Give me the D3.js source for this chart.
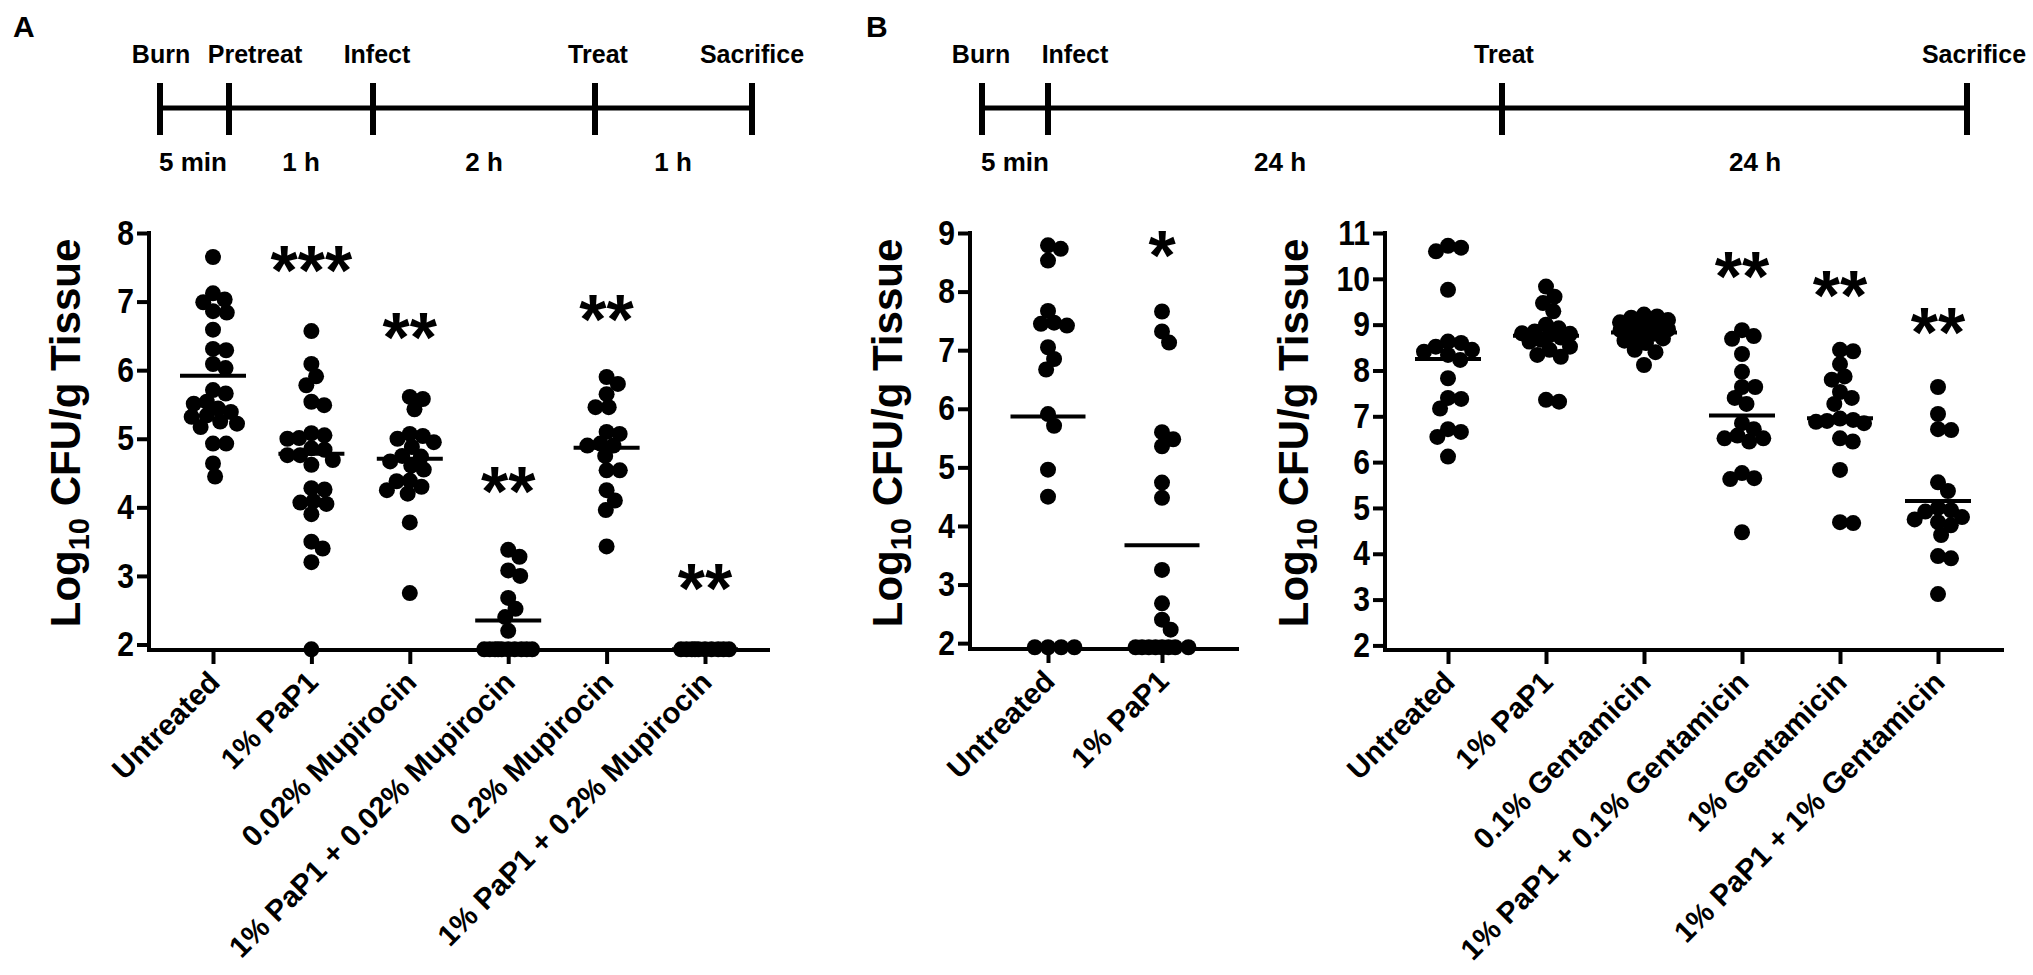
<!DOCTYPE html>
<html>
<head>
<meta charset="utf-8">
<script src="https://cdn.jsdelivr.net/npm/d3@7"></script>
<style>
  html, body { margin: 0; padding: 0; background: #fff; }
  svg text { font-family: "Liberation Sans", Arial, sans-serif; font-weight: bold; fill: #000; }
</style>
</head>
<body>
<div id="chart"></div>
<script>
// ---- data (log10 CFU/g tissue) ----
const timelineEventsA = ['Burn', 'Pretreat', 'Infect', 'Treat', 'Sacrifice'];
const timelineIntervalsA = ['5 min', '1 h', '2 h', '1 h'];
const timelineEventsB = ['Burn', 'Infect', 'Treat', 'Sacrifice'];
const timelineIntervalsB = ['5 min', '24 h', '24 h'];

const categoriesA = ['Untreated', '1% PaP1', '0.02% Mupirocin', '1% PaP1 + 0.02% Mupirocin', '0.2% Mupirocin', '1% PaP1 + 0.2% Mupirocin'];
const valuesA = [
    [7.65, 7.12, 7.03, 6.99, 6.86, 6.84, 6.59, 6.31, 6.29, 6.09, 6.03, 5.71, 5.66, 5.54, 5.51, 5.44, 5.39, 5.34, 5.32, 5.25, 5.22, 5.17, 4.93, 4.93, 4.64, 4.45],
    [6.57, 6.09, 5.91, 5.78, 5.54, 5.49, 5.08, 5.05, 5.01, 5.0, 4.86, 4.84, 4.76, 4.76, 4.69, 4.62, 4.28, 4.26, 4.09, 4.07, 4.05, 3.9, 3.5, 3.4, 3.2, 1.93],
    [5.61, 5.58, 5.43, 5.07, 5.04, 5.0, 4.95, 4.88, 4.75, 4.74, 4.67, 4.61, 4.55, 4.39, 4.38, 4.30, 4.25, 4.2, 3.78, 2.75],
    [3.38, 3.28, 3.08, 3.0, 2.68, 2.52, 2.4, 2.2, 1.93, 1.93, 1.93, 1.93, 1.93, 1.93, 1.93, 1.93, 1.93, 1.93],
    [5.9, 5.8, 5.65, 5.46, 5.46, 5.1, 5.07, 4.93, 4.9, 4.9, 4.75, 4.54, 4.54, 4.25, 4.1, 3.96, 3.43],
    [1.93, 1.93, 1.93, 1.93, 1.93, 1.93, 1.93, 1.93, 1.93, 1.93]
];
const meansA = [5.92, 4.78, 4.71, 2.35, 4.87, 1.93];
const starsA = ['', '***', '**', '**', '**', '**'];
const starLevelsA = [0, 7.68, 6.70, 4.46, 6.96, 3.04];
const ticksA = [2, 3, 4, 5, 6, 7, 8];

const categoriesB1 = ['Untreated', '1% PaP1'];
const valuesB1 = [
    [8.79, 8.73, 8.53, 7.67, 7.47, 7.45, 7.42, 7.05, 6.85, 6.67, 5.91, 5.71, 4.96, 4.50, 1.93, 1.93, 1.93, 1.93],
    [7.66, 7.32, 7.13, 5.60, 5.48, 5.36, 4.74, 4.48, 3.25, 2.68, 2.40, 2.23, 1.93, 1.93, 1.93, 1.93, 1.93, 1.93, 1.93, 1.93]
];
const meansB1 = [5.87, 3.67];
const starsB1 = ['', '*'];
const starLevelsB1 = [0, 8.88];
const ticksB1 = [2, 3, 4, 5, 6, 7, 8, 9];

const categoriesB2 = ['Untreated', '1% PaP1', '0.1% Gentamicin', '1% PaP1 + 0.1% Gentamicin', '1% Gentamicin', '1% PaP1 + 1% Gentamicin'];
const valuesB2 = [
    [10.72, 10.68, 10.60, 9.76, 8.63, 8.60, 8.52, 8.45, 8.41, 8.34, 8.23, 7.83, 7.40, 7.38, 7.17, 6.72, 6.66, 6.55, 6.12],
    [9.83, 9.61, 9.47, 9.29, 9.0, 8.92, 8.85, 8.81, 8.8, 8.78, 8.72, 8.67, 8.63, 8.52, 8.45, 8.34, 8.3, 7.36, 7.32],
    [9.22, 9.18, 9.15, 9.1, 9.05, 9.0, 8.98, 8.95, 8.92, 8.9, 8.88, 8.85, 8.8, 8.75, 8.7, 8.65, 8.6, 8.45, 8.4, 8.12],
    [8.88, 8.75, 8.69, 8.36, 7.97, 7.64, 7.64, 7.4, 7.27, 6.85, 6.72, 6.58, 6.52, 6.52, 6.45, 5.76, 5.65, 5.63, 4.47],
    [8.45, 8.42, 8.14, 7.87, 7.8, 7.53, 7.4, 7.27, 6.95, 6.92, 6.9, 6.88, 6.85, 6.52, 6.45, 5.83, 4.69, 4.67],
    [7.64, 7.05, 6.72, 6.70, 5.56, 5.37, 5.0, 4.95, 4.92, 4.8, 4.75, 4.69, 4.62, 4.41, 3.95, 3.9, 3.12]
];
const meansB2 = [8.25, 8.76, 8.83, 7.02, 6.96, 5.15];
const starsB2 = ['', '', '', '**', '**', '**'];
const starLevelsB2 = [0, 0, 0, 10.39, 9.97, 9.17];
const ticksB2 = [2, 3, 4, 5, 6, 7, 8, 9, 10, 11];

// ---- layout ----
const width = 2033;
const height = 975;
const dotR = 8;

const svg = d3.select('#chart')
    .append('svg')
    .attr('width', width)
    .attr('height', height);

svg.append('text').attr('x', 13).attr('y', 37).attr('font-size', 30).text('A');
svg.append('text').attr('x', 866).attr('y', 37).attr('font-size', 30).text('B');

// timeline schematic
function drawTimeline(events, intervals, tickX, labelX, intervalX) {
    const g = svg.append('g');
    const lineY = 108;
    g.append('line')
        .attr('x1', tickX[0]).attr('x2', tickX[tickX.length - 1])
        .attr('y1', lineY).attr('y2', lineY)
        .attr('stroke', '#000').attr('stroke-width', 5);
    g.selectAll('line.tick')
        .data(tickX)
        .enter()
        .append('line')
        .attr('class', 'tick')
        .attr('x1', (d) => d).attr('x2', (d) => d)
        .attr('y1', 83).attr('y2', 135)
        .attr('stroke', '#000').attr('stroke-width', 6);
    g.selectAll('text.ev')
        .data(events)
        .enter()
        .append('text')
        .attr('class', 'ev')
        .attr('x', (d, i) => labelX[i])
        .attr('y', 63)
        .attr('text-anchor', 'middle')
        .attr('font-size', 25)
        .text((d) => d);
    g.selectAll('text.iv')
        .data(intervals)
        .enter()
        .append('text')
        .attr('class', 'iv')
        .attr('x', (d, i) => intervalX[i])
        .attr('y', 171)
        .attr('text-anchor', 'middle')
        .attr('font-size', 26)
        .text((d) => d);
}

drawTimeline(timelineEventsA, timelineIntervalsA,
    [160, 229, 373, 595, 752], [161, 255, 377, 598, 752], [193, 301, 484, 673]);
drawTimeline(timelineEventsB, timelineIntervalsB,
    [982, 1048, 1502, 1967], [981, 1075, 1504, 1974], [1015, 1280, 1755]);

// simple beeswarm: offsets that keep dots apart, squeezed within a column half-width
function swarm(vals, y, minD, limit) {
    const placed = [];
    vals.forEach((v) => {
        const py = y(v);
        const cands = [0];
        placed.forEach((p) => {
            const dy = Math.abs(p.y - py);
            if (dy < minD) {
                const dx = Math.sqrt(minD * minD - dy * dy);
                cands.push(p.x + dx, p.x - dx);
            }
        });
        cands.sort((a, b) => Math.abs(a) - Math.abs(b));
        let best = null;
        for (const c of cands) {
            if (Math.abs(c) > limit + 0.01) continue;
            const ok = placed.every((p) => Math.hypot(p.x - c, p.y - py) >= minD - 0.01);
            if (ok) { best = c; break; }
        }
        if (best === null) {
            let bestD = -1;
            for (let c = -limit; c <= limit; c += 0.5) {
                const d = d3.min(placed, (p) => Math.hypot(p.x - c, p.y - py));
                if (d > bestD + 0.01) { bestD = d; best = c; }
            }
        }
        placed.push({ v: v, x: best, y: py });
    });
    return placed;
}

function drawPanel(cfg) {
    const g = svg.append('g');

    const y = d3.scaleLinear()
        .domain(cfg.domain)
        .range([cfg.bottom, 233]);

    const x = d3.scalePoint()
        .domain(cfg.categories)
        .range(cfg.catRange);

    // y axis
    const yAxis = d3.axisLeft(y)
        .tickValues(cfg.ticks)
        .tickFormat(d3.format('d'))
        .tickSize(12)
        .tickSizeOuter(0);
    const ya = g.append('g')
        .attr('transform', `translate(${cfg.axisX}, 0)`)
        .call(yAxis);
    ya.select('.domain').attr('stroke-width', 4).attr('d', `M0,${y(cfg.ticks[cfg.ticks.length - 1]) - 2}V${cfg.bottom + 2}`);
    ya.selectAll('.tick line').attr('stroke-width', 4);
    ya.selectAll('.tick text')
        .attr('font-size', 35)
        .attr('font-family', '"Liberation Sans", Arial, sans-serif')
        .attr('x', -15 / 0.86)
        .attr('transform', 'scale(0.86, 1)');

    // x axis
    const xAxis = d3.axisBottom(x)
        .tickSize(14)
        .tickSizeOuter(0);
    const xa = g.append('g')
        .attr('transform', `translate(0, ${cfg.bottom})`)
        .call(xAxis);
    xa.select('.domain').remove();
    xa.append('line')
        .attr('x1', cfg.axisX - 2).attr('x2', cfg.axisEnd)
        .attr('stroke', '#000').attr('stroke-width', 4);
    xa.selectAll('.tick line').attr('stroke-width', 4);
    xa.selectAll('.tick text')
        .attr('font-size', 29.5)
        .attr('font-family', '"Liberation Sans", Arial, sans-serif')
        .attr('text-anchor', 'end')
        .attr('dy', 0)
        .attr('transform', 'translate(8, 34) rotate(-45)')
        .attr('y', 0)
        .attr('x', 0);

    // y label
    const lab = g.append('text')
        .attr('transform', `translate(${cfg.labelX}, 433) rotate(-90)`)
        .attr('text-anchor', 'middle')
        .attr('font-size', 42);
    lab.append('tspan').text('Log');
    lab.append('tspan').attr('font-size', 29).attr('dy', 9).text('10');
    lab.append('tspan').attr('dy', -9).text(' CFU/g Tissue');

    // dots
    cfg.values.forEach((vals, i) => {
        const pts = swarm(vals, y, dotR * 1.65, cfg.limit);
        g.append('g')
            .selectAll('circle')
            .data(pts)
            .enter()
            .append('circle')
            .attr('cx', (d) => x(cfg.categories[i]) + d.x)
            .attr('cy', (d) => d.y)
            .attr('r', dotR)
            .attr('fill', '#000');
    });

    // mean lines
    g.selectAll('line.mean')
        .data(cfg.means)
        .enter()
        .append('line')
        .attr('class', 'mean')
        .attr('x1', (d, i) => x(cfg.categories[i]) - cfg.meanW / 2)
        .attr('x2', (d, i) => x(cfg.categories[i]) + cfg.meanW / 2)
        .attr('y1', (d) => y(d))
        .attr('y2', (d) => y(d))
        .attr('stroke', '#000')
        .attr('stroke-width', 4);

    // significance stars
    g.selectAll('text.star')
        .data(cfg.stars)
        .enter()
        .append('text')
        .attr('class', 'star')
        .attr('x', (d, i) => x(cfg.categories[i]))
        .attr('y', (d, i) => y(cfg.starLevels[i]) + 40)
        .attr('text-anchor', 'middle')
        .attr('font-size', 70)
        .text((d) => d);
}

drawPanel({
    categories: categoriesA, values: valuesA, means: meansA,
    stars: starsA, starLevels: starLevelsA, ticks: ticksA,
    domain: [1.92, 8], bottom: 650, axisX: 149, axisEnd: 770,
    catRange: [213, 705], labelX: 80, meanW: 66, limit: 24
});

drawPanel({
    categories: categoriesB1, values: valuesB1, means: meansB1,
    stars: starsB1, starLevels: starLevelsB1, ticks: ticksB1,
    domain: [1.9, 9], bottom: 649, axisX: 970, axisEnd: 1239,
    catRange: [1048, 1162], labelX: 902, meanW: 75, limit: 30
});

drawPanel({
    categories: categoriesB2, values: valuesB2, means: meansB2,
    stars: starsB2, starLevels: starLevelsB2, ticks: ticksB2,
    domain: [1.9, 11], bottom: 650, axisX: 1385, axisEnd: 2004,
    catRange: [1448, 1938], labelX: 1308, meanW: 66, limit: 24
});
</script>
</body>
</html>
